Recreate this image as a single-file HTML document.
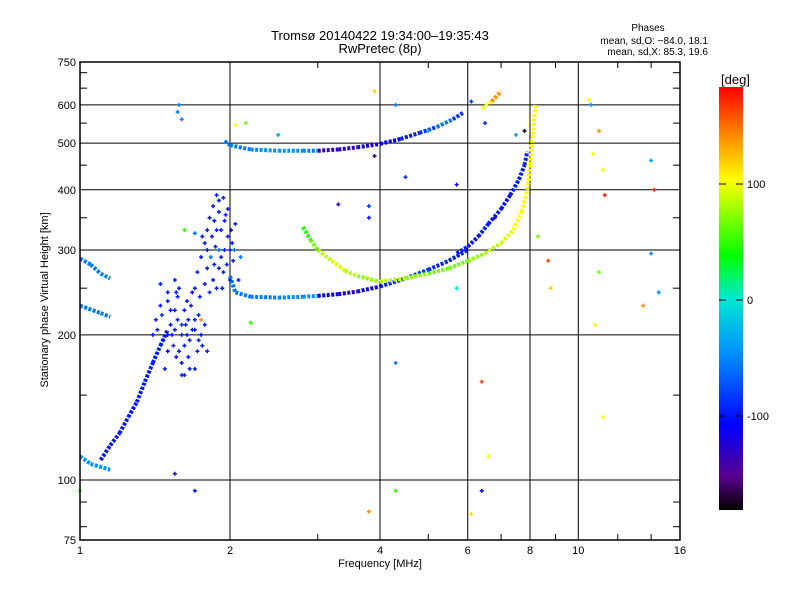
<!DOCTYPE html>
<html><head><meta charset="utf-8"><style>
body{margin:0;background:#fff;}
svg text{font-family:"Liberation Sans",sans-serif;fill:#000;}
</style></head><body>
<svg id="chart" width="800" height="600" xmlns="http://www.w3.org/2000/svg">
<rect width="800" height="600" fill="#fff"/>
<text x="380" y="40" font-size="13" text-anchor="middle">Tromsø 20140422 19:34:00–19:35:43</text>
<text x="380" y="53" font-size="13" text-anchor="middle">RwPretec (8p)</text>
<text x="648" y="31" font-size="10" text-anchor="middle">Phases</text>
<text x="708" y="44" font-size="10" text-anchor="end">mean, sd,O: −84.0, 18.1</text>
<text x="708" y="55" font-size="10" text-anchor="end">mean, sd,X:  85.3, 19.6</text>
<g id="grid"></g>
<g id="marks"></g>
<g id="axes"></g>
<text x="380" y="567" font-size="11" text-anchor="middle">Frequency [MHz]</text>
<text transform="translate(48,300) rotate(-90)" font-size="11" text-anchor="middle">Stationary phase Virtual Height [km]</text>
<defs><linearGradient id="cb" x1="0" y1="1" x2="0" y2="0">
<stop offset="0" stop-color="#000"/><stop offset="0.08" stop-color="#5a0090"/><stop offset="0.2" stop-color="#0000ff"/><stop offset="0.37" stop-color="#0090ff"/><stop offset="0.5" stop-color="#00e8d0"/><stop offset="0.6" stop-color="#00ff00"/><stop offset="0.78" stop-color="#ffff00"/><stop offset="0.88" stop-color="#ff9000"/><stop offset="1" stop-color="#ff0000"/></linearGradient></defs>
<rect x="719" y="87" width="24" height="423" fill="url(#cb)"/>
<text x="721" y="84" font-size="13">[deg]</text>
<g id="cbticks"></g>
</svg>
<script>
const xTickVals=[1,2,4,6,8,10,16];
const xTickLabels=["1","2","4","6","8","10","16"];
const yTickVals=[75,100,200,300,400,500,600,750];
const yTickLabels=["75","100","200","300","400","500","600","750"];
const cbTickVals=[100,0,-100];
const cbTickLabels=["100","0","-100"];
// traces: [freq MHz, height km, phase deg]
const traceA=[[2.0,265,-60],[2.05,245,-60],[2.2,240,-60],[2.5,239,-55],[2.8,240,-50],[3.0,241,-110],[3.3,243,-125],[3.6,246,-115],[4.0,252,-100],[4.5,262,-90],[5.0,273,-95],[5.5,285,-100],[6.0,300,-100]];
const traceB=[[5.7,295,-100],[6.0,305,-105],[6.3,320,-100],[6.6,340,-100],[7.0,365,-105],[7.3,390,-100],[7.6,420,-100],[7.8,450,-95],[7.9,480,-90]];
const traceC=[[2.8,335,40],[2.9,315,60],[3.0,300,80],[3.2,285,90],[3.4,272,80],[3.6,265,70],[4.0,258,80],[4.5,262,70],[5.0,268,60],[5.5,275,60],[6.0,285,70],[6.5,295,80],[7.0,310,90],[7.4,330,100],[7.7,360,100],[7.9,400,100],[8.0,450,100],[8.1,520,100],[8.2,600,110]];
const traceD=[[1.95,505,-60],[2.0,495,-60],[2.2,485,-50],[2.5,482,-50],[2.8,482,-60],[3.0,482,-130],[3.3,485,-130],[3.6,490,-120],[4.0,498,-110],[4.4,510,-100],[4.8,525,-90],[5.2,540,-60],[5.6,560,-90],[5.9,580,-100]];
const traceE=[[6.4,590,100],[6.7,610,140],[7.0,640,100]];
const traceF=[[1.0,112,-50],[1.05,108,-50],[1.15,105,-55]];
const traceG=[[1.1,110,-100],[1.15,118,-100],[1.2,125,-100],[1.25,135,-105],[1.3,145,-100],[1.35,160,-100],[1.4,175,-100],[1.45,190,-100],[1.5,205,-100]];
const traceH=[[1.0,288,-60],[1.05,280,-60],[1.1,268,-55],[1.15,262,-55]];
const traceI=[[1.0,230,-60],[1.1,222,-60],[1.15,218,-60]];
const scatterPts=[
[1.4,200,-100],[1.42,215,-100],[1.45,230,-100],[1.47,195,-100],[1.5,185,-110],[1.52,210,-100],[1.55,225,-100],[1.57,240,-100],[1.6,200,-100],[1.62,190,-100],[1.65,215,-100],[1.67,230,-100],[1.7,205,-100],[1.72,185,-100],[1.75,200,-100],[1.5,245,-100],[1.55,260,-100],[1.45,255,-100],[1.6,175,-100],[1.65,180,-100],[1.7,170,-100],[1.62,165,-100],[1.48,170,-100],[1.58,250,-100],[1.68,245,-120],[1.78,210,-100],[1.8,185,-100],[1.53,200,-100],[1.63,210,-100],[1.73,220,-100],
[1.43,205,-100],[1.46,220,-90],[1.5,200,-100],[1.52,225,-100],[1.55,205,-100],[1.57,215,-100],[1.6,210,-90],[1.62,225,-100],[1.64,200,-100],[1.66,195,-100],[1.68,205,-100],[1.7,215,-100],[1.73,195,-100],[1.76,190,-100],[1.56,180,-100],[1.58,185,-100],[1.66,170,-100],[1.6,165,-90],[1.5,235,-100],[1.56,245,-100],[1.64,235,-100],[1.54,190,-100],
[1.7,250,-100],[1.72,270,-100],[1.75,290,-100],[1.78,310,-100],[1.8,330,-100],[1.82,350,-100],[1.85,370,-100],[1.88,390,-100],[1.9,360,-100],[1.92,330,-100],[1.95,300,-100],[1.97,280,-100],[2.0,260,-100],[2.02,310,-100],[2.05,340,-100],[1.85,260,-100],[1.9,275,-100],[1.83,290,-60],[1.93,250,-100],[1.98,320,-100],[2.03,285,-100],[1.87,305,-100],[1.8,275,-100],[1.95,345,-100],[2.1,290,-60],[2.08,260,-100],[1.76,320,-100],[1.74,240,-100],
[1.78,255,-100],[1.82,245,-90],[1.86,280,-100],[1.88,330,-100],[1.9,300,-60],[1.92,290,-100],[1.94,270,-100],[1.96,355,-100],[1.98,365,-100],[2.0,300,-100],[2.01,330,-100],[2.04,300,-60],[1.84,320,-100],[1.86,345,-100],[1.9,380,-100],[1.94,385,-100],[1.8,300,-100],[1.88,250,-100],
[1.58,600,-60],[1.6,560,-60],[1.57,580,-60],[1.0,95,40],[1.55,103,-130],[1.7,95,-100],[2.5,520,-40],[3.3,373,-130],[3.8,370,-90],[3.8,350,-100],[3.9,470,-160],[3.9,640,120],[4.3,175,-60],[4.3,95,40],[4.3,600,-60],[3.8,86,140],[6.1,85,110],[6.4,95,-110],[6.4,160,160],[6.6,112,100],[6.8,350,-110],[6.5,550,-90],[7.8,530,-180],[8.3,320,60],[8.8,250,120],[8.7,285,160],[10.5,615,100],[10.6,600,-50],[10.7,475,100],[11.0,530,140],[11.2,440,100],[11.3,390,170],[11.0,270,60],[10.8,210,100],[11.2,135,100],[14.0,460,-40],[14.2,400,170],[14.0,295,-50],[14.5,245,-50],[13.5,230,140],[4.5,425,-90],[5.7,250,0],[5.7,410,-120],[6.1,610,-90],[5.0,530,-40],[7.5,520,-40],[2.05,545,100],[2.15,550,60],[2.2,212,40],[1.62,330,40],[1.7,325,-60],[1.75,215,140]];

const X0=80,X1=680,Y0=62,Y1=540;
function xs(f){return X0+150*Math.log2(f);}
function ys(h){return 480-482*Math.log10(h/100);}
const NS="http://www.w3.org/2000/svg";
function mk(tag,attrs,parent){const e=document.createElementNS(NS,tag);for(const k in attrs)e.setAttribute(k,attrs[k]);parent.appendChild(e);return e;}
const stops=[[-180,[0,0,0]],[-150,[90,0,144]],[-110,[0,0,255]],[-50,[0,144,255]],[0,[0,232,208]],[30,[0,255,0]],[100,[255,255,0]],[140,[255,144,0]],[180,[255,0,0]]];
function col(p){for(let i=0;i<stops.length-1;i++){const a=stops[i],b=stops[i+1];if(p<=b[0]){const t=Math.max(0,(p-a[0])/(b[0]-a[0]));const c=a[1].map((v,j)=>Math.round(v+(b[1][j]-v)*t));return `rgb(${c})`;}}return "rgb(255,0,0)";}
const grid=document.getElementById('grid'),marks=document.getElementById('marks'),axes=document.getElementById('axes');
xTickVals.forEach((v,i)=>{const x=xs(v);
 if(i>0&&i<xTickVals.length-1){const l=mk('line',{x1:x,x2:x,y1:Y0,y2:Y1,stroke:'#000','stroke-width':1},grid);
 
 }
 const t=mk('text',{x:x,y:Y1+14,'font-size':11,'text-anchor':'middle'},axes);t.textContent=xTickLabels[i];
 
 });
yTickVals.forEach((v,i)=>{const y=ys(v);
 if(i>0&&i<yTickVals.length-1){const l=mk('line',{x1:X0,x2:X1,y1:y,y2:y,stroke:'#000','stroke-width':1},grid);
 
 }
 const t=mk('text',{x:X0-4,y:Math.min(Math.max(y,Y0),Y1)+4,'font-size':11,'text-anchor':'end'},axes);t.textContent=yTickLabels[i];
 
 });
[3,5,7,9,12,14].forEach(v=>{const x=xs(v);mk('line',{x1:x,x2:x,y1:Y1,y2:Y1-6,stroke:'#000'},axes);mk('line',{x1:x,x2:x,y1:Y0,y2:Y0+6,stroke:'#000'},axes);});
[80,90,150,250,350,450,550,650,700].forEach(v=>{const y=ys(v);mk('line',{x1:X0,x2:X0+7,y1:y,y2:y,stroke:'#000'},axes);mk('line',{x1:X1,x2:X1-7,y1:y,y2:y,stroke:'#000'},axes);});
const frame=mk('rect',{x:X0,y:Y0,width:X1-X0,height:Y1-Y0,fill:'none',stroke:'#000','stroke-width':1.5},axes);


[traceA,traceB,traceC,traceD,traceE,traceF,traceG,traceH,traceI].forEach((tr,ti)=>{
 for(let i=0;i<tr.length-1;i++){const a=tr[i],b=tr[i+1];
  const s=mk('line',{x1:xs(a[0]),y1:ys(a[1]),x2:xs(b[0]),y2:ys(b[1]),stroke:col(a[2]),'stroke-width':4,'stroke-dasharray':'3 1.5'},marks);
  
  }});
scatterPts.forEach(p=>{const x=xs(p[0]),y=ys(p[1]),c=col(p[2]);
 const g=mk('path',{d:`M${x-2},${y}h4M${x},${y-2}v4`,stroke:c,'stroke-width':1.5},marks);
 
 });
const cbt=document.getElementById('cbticks');
cbTickVals.forEach((v,i)=>{const y=300-1.16*v;mk('line',{x1:719,x2:726,y1:y,y2:y,stroke:'#000'},cbt);mk('line',{x1:736,x2:743,y1:y,y2:y,stroke:'#000'},cbt);
 const t=mk('text',{x:747,y:y+4,'font-size':11},cbt);t.textContent=cbTickLabels[i];
 
 });
</script>
</body></html>
